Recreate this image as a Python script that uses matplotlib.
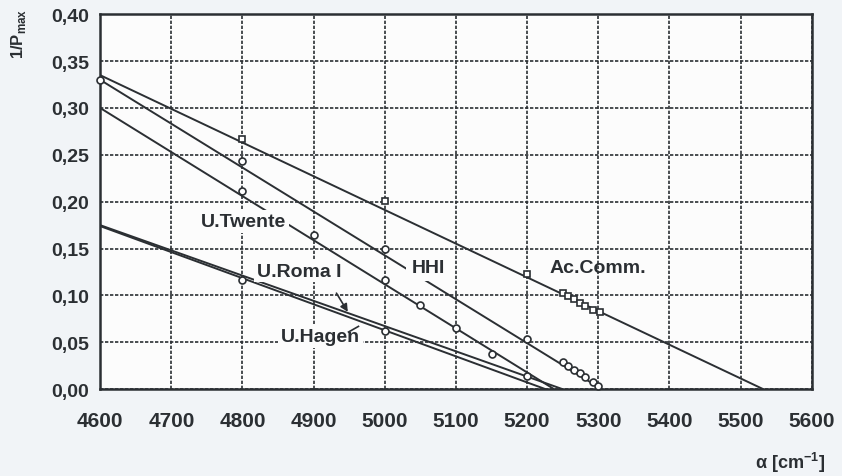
import matplotlib.pyplot as plt
from matplotlib.ticker import MultipleLocator, FuncFormatter

plt.rcParams['font.family'] = ['Liberation Sans', 'DejaVu Sans']

# straight fit lines: value at 4600 and zero crossing
line_names = ['Ac.Comm.', 'HHI', 'U.Twente', 'U.Roma I', 'U.Hagen']
line_start_y = [0.335, 0.330, 0.300, 0.175, 0.174]
line_zero_x = [5532, 5305, 5238, 5250, 5226]

# measured points
ac_x = [4800, 5000, 5200, 5250, 5258, 5266, 5274, 5282, 5292, 5302]
ac_y = [0.267, 0.201, 0.123, 0.103, 0.099, 0.096, 0.092, 0.089, 0.085, 0.082]
hhi_x = [4600, 4800, 5000, 5200, 5250, 5258, 5266, 5274, 5282, 5292, 5300]
hhi_y = [0.330, 0.243, 0.150, 0.054, 0.029, 0.025, 0.021, 0.017, 0.013, 0.008, 0.003]
tw_x = [4800, 4900, 5000, 5050, 5100, 5150, 5200]
tw_y = [0.211, 0.165, 0.116, 0.090, 0.065, 0.038, 0.014]
roma_x = [4800, 5000]
roma_y = [0.117, 0.062]

ink = '#2b2f33'

fig = plt.figure(figsize=(8.42, 4.77), dpi=100, facecolor='#f1f4f7')
ax = fig.add_axes([0.119, 0.182, 0.845, 0.786])
ax.set_facecolor('#fcfcfc')

for y0, x0 in zip(line_start_y, line_zero_x):
    ax.plot([4600, x0], [y0, 0], color=ink, lw=1.4, zorder=3, solid_capstyle='butt')

mk = dict(color='none', mfc='white', mec=ink, mew=1.2, ms=5, zorder=4, clip_on=False)
ax.plot(ac_x, ac_y, marker='s', **mk)
ax.plot(hhi_x, hhi_y, marker='o', **mk)
ax.plot(tw_x, tw_y, marker='o', **mk)
ax.plot(roma_x, roma_y, marker='o', **mk)

lbl = dict(fontsize=14, fontweight='bold', color=ink, ha='center', va='center', zorder=5)
box = dict(facecolor='#fcfcfc', edgecolor='none', pad=2)
ax.text(4801, 0.179, 'U.Twente', bbox=box, **lbl)
ax.text(5061, 0.130, 'HHI', bbox=dict(facecolor='#fcfcfc', edgecolor='none', pad=4), **lbl)
ax.text(5299, 0.130, 'Ac.Comm.', **lbl)
ax.text(4880, 0.126, 'U.Roma I', bbox=box, **lbl)
ax.text(4910, 0.056, 'U.Hagen', bbox=box, **lbl)

ax.annotate('', xy=(4950, 0.080), xytext=(4930, 0.105),
            arrowprops=dict(arrowstyle='-|>', color=ink, lw=1.2, mutation_scale=11), zorder=5)
ax.plot([4949, 4963], [0.061, 0.067], color=ink, lw=1.2, zorder=5)

ax.set_xlim(4600, 5600)
ax.set_ylim(0, 0.40)
ax.xaxis.set_major_locator(MultipleLocator(100))
ax.yaxis.set_major_locator(MultipleLocator(0.05))
ax.yaxis.set_major_formatter(FuncFormatter(lambda v, p: f'{v:.2f}'.replace('.', ',')))
ax.grid(True, color=ink, lw=1.2, linestyle=(0, (2, 1)), zorder=1)
ax.tick_params(length=0, colors=ink)
ax.tick_params(axis='x', labelsize=15, pad=16)
ax.tick_params(axis='y', labelsize=14, pad=8)
for t in ax.get_xticklabels() + ax.get_yticklabels():
    t.set_fontweight('bold')
for s in ax.spines.values():
    s.set_color(ink)
    s.set_linewidth(1.8)

fig.text(0.022, 0.93, r'1/P$_{\mathregular{max}}$', rotation=90, fontsize=12,
         fontweight='bold', color=ink, ha='center', va='center')
fig.text(0.938, 0.03, r'α [cm$^{\mathregular{-1}}$]', fontsize=13,
         fontweight='bold', color=ink, ha='center', va='center')

fig.savefig('out.png', dpi=100, facecolor=fig.get_facecolor())
